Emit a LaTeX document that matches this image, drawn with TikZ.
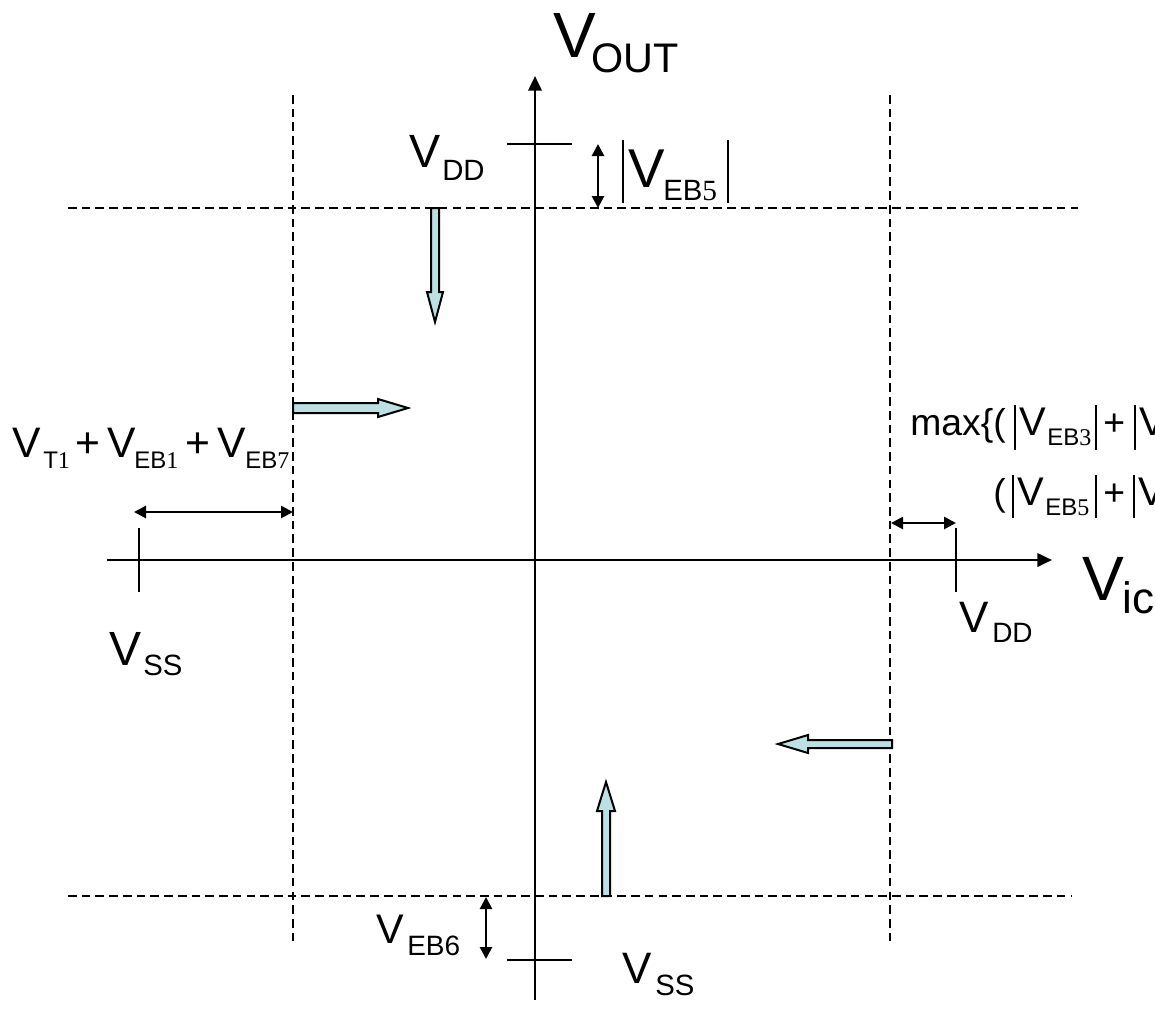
\documentclass[tikz,border=0pt]{standalone}
\usepackage{fontspec}
\setmainfont{Liberation Sans}
\newfontfamily\sdig{Liberation Serif}
\usetikzlibrary{arrows.meta}
\newcommand\myfs[1]{\fontsize{#1}{#1}\selectfont}
\definecolor{arrfill}{RGB}{187,224,227}
\tikzset{
  lbl/.style={inner sep=0pt, anchor=base west},
  axis/.style={line width=2pt, -{Triangle[length=11pt,width=10pt]}},
  guide/.style={line width=1.1pt, dash pattern=on 6.5pt off 3.8pt},
  tick/.style={line width=1.5pt},
  dim/.style={line width=2pt, {Triangle[length=9pt,width=9pt]}-{Triangle[length=9pt,width=9pt]}},
  blockarr/.style={draw, line width=1.5pt, fill=arrfill, line join=miter},
  absbar/.style={line width=1.1pt}
}
\begin{document}
\begin{tikzpicture}[x=0.75pt,y=-0.75pt]
\useasboundingbox (0,0) rectangle (1155,1018);
\clip (0,0) rectangle (1155,1018);

% coordinates
\coordinate (yb) at (535,1000); \coordinate (yt) at (535,76);
\coordinate (xl) at (107,560); \coordinate (xr) at (1052,560);
\coordinate (dtl) at (68,208); \coordinate (dtr) at (1078,208);
\coordinate (dbl) at (68,896); \coordinate (dbr) at (1072,896);
\coordinate (dlt) at (293,95); \coordinate (dlb) at (293,945);
\coordinate (drt) at (890,95); \coordinate (drb) at (890,945);

% dashed guides
\draw[guide] (dtl) -- (dtr);
\draw[guide] (dbl) -- (dbr);
\draw[guide] (dlt) -- (dlb);
\draw[guide] (drt) -- (drb);

% axes
\draw[axis] (yb) -- (yt);
\draw[axis] (xl) -- (xr);

% ticks
\coordinate (tddl) at (507,144); \coordinate (tddr) at (572,144);
\coordinate (tssl) at (507,960); \coordinate (tssr) at (572,960);
\coordinate (txst) at (139,528); \coordinate (txsb) at (139,592);
\coordinate (txdt) at (956,528); \coordinate (txdb) at (956,592);
\draw[tick] (tddl) -- (tddr);
\draw[tick] (tssl) -- (tssr);
\draw[tick] (txst) -- (txsb);
\draw[tick] (txdt) -- (txdb);

% dimension arrows
\coordinate (d5t) at (598,144); \coordinate (d5b) at (598,208);
\coordinate (d6t) at (486,897); \coordinate (d6b) at (486,959);
\coordinate (dll) at (134,512); \coordinate (dlr) at (293,512);
\coordinate (drl) at (891,523); \coordinate (drr) at (956,523);
\draw[dim] (d5t) -- (d5b);
\draw[dim] (d6t) -- (d6b);
\draw[dim] (dll) -- (dlr);
\draw[dim] (drl) -- (drr);

% block arrows
\draw[blockarr] (431,208) -- (439,208) -- (439,292) -- (443,292) -- (435,322) -- (427,292) -- (431,292) -- cycle;
\draw[blockarr] (293,403) -- (378,403) -- (378,399) -- (408,408) -- (378,417) -- (378,413) -- (293,413) -- cycle;
\draw[blockarr] (892,740) -- (808,740) -- (808,735) -- (778,744) -- (808,753) -- (808,748) -- (892,748) -- cycle;
\draw[blockarr] (602,896) -- (602,811) -- (597,811) -- (606,782) -- (615,811) -- (610,811) -- (610,896) -- cycle;

% V_OUT
\node[lbl] (voutV) at (553,57) {\myfs{48}V};
\node[lbl] (voutS) at (591,72) {\myfs{31}OUT};
% V_DD top
\node[lbl] (vddtV) at (409,167) {\myfs{35}V};
\node[lbl] (vddtS) at (442,180) {\myfs{22}DD};
% |V_EB5| top
\draw[absbar] (623,140) -- (623,203);
\draw[absbar] (728,140) -- (728,203);
\node[lbl] (veb5V) at (628,187) {\myfs{41}V};
\node[lbl] (veb5S) at (663,200) {\myfs{22}EB{\sdig 5}};

% left formula
\node[lbl] (vt1V) at (12,457) {\myfs{32}V};
\node[lbl] (vt1S) at (43,468) {\myfs{18}T{\sdig 1}};
\node[lbl] (plA) at (75,457) {\myfs{32}+};
\node[lbl] (veb1V) at (107,457) {\myfs{32}V};
\node[lbl] (veb1S) at (134,468) {\myfs{18}EB{\sdig 1}};
\node[lbl] (plB) at (185,457) {\myfs{32}+};
\node[lbl] (veb7V) at (217,457) {\myfs{32}V};
\node[lbl] (veb7S) at (245,468) {\myfs{18}EB{\sdig 7}};

% max formula line 1
\node[lbl] (maxA) at (910,435) {\myfs{28}max\{(};
\draw[absbar] (1015,405) -- (1015,450);
\node[lbl] (veb3V) at (1019,435) {\myfs{30}V};
\node[lbl] (veb3S) at (1047,445) {\myfs{18}EB{\sdig 3}};
\draw[absbar] (1096,405) -- (1096,450);
\node[lbl] (plC) at (1103,435) {\myfs{28}+};
\draw[absbar] (1135,405) -- (1135,450);
\node[lbl] (vcutA) at (1139,435) {\myfs{30}V};
% max formula line 2
\node[lbl] (parB) at (993,505) {\myfs{28}(};
\draw[absbar] (1013,475) -- (1013,518);
\node[lbl] (veb5bV) at (1017,505) {\myfs{30}V};
\node[lbl] (veb5bS) at (1045,515) {\myfs{18}EB{\sdig 5}};
\draw[absbar] (1096,475) -- (1096,518);
\node[lbl] (plD) at (1103,505) {\myfs{28}+};
\draw[absbar] (1134,475) -- (1134,518);
\node[lbl] (vcutB) at (1138,505) {\myfs{30}V};

% V_ic
\node[lbl] (vicV) at (1082,600) {\myfs{47}V};
\node[lbl] (vicS) at (1122,613) {\myfs{33}ic};
% V_DD right
\node[lbl] (vddrV) at (959,632) {\myfs{33}V};
\node[lbl] (vddrS) at (992,642) {\myfs{21}DD};
% V_SS left
\node[lbl] (vsslV) at (109,665) {\myfs{36}V};
\node[lbl] (vsslS) at (143,675) {\myfs{22}SS};
% V_SS bottom
\node[lbl] (vssbV) at (622,983) {\myfs{33}V};
\node[lbl] (vssbS) at (655,995) {\myfs{22}SS};
% V_EB6
\node[lbl] (veb6V) at (376,943) {\myfs{31}V};
\node[lbl] (veb6S) at (407,955) {\myfs{21}EB6};
\end{tikzpicture}
\end{document}
